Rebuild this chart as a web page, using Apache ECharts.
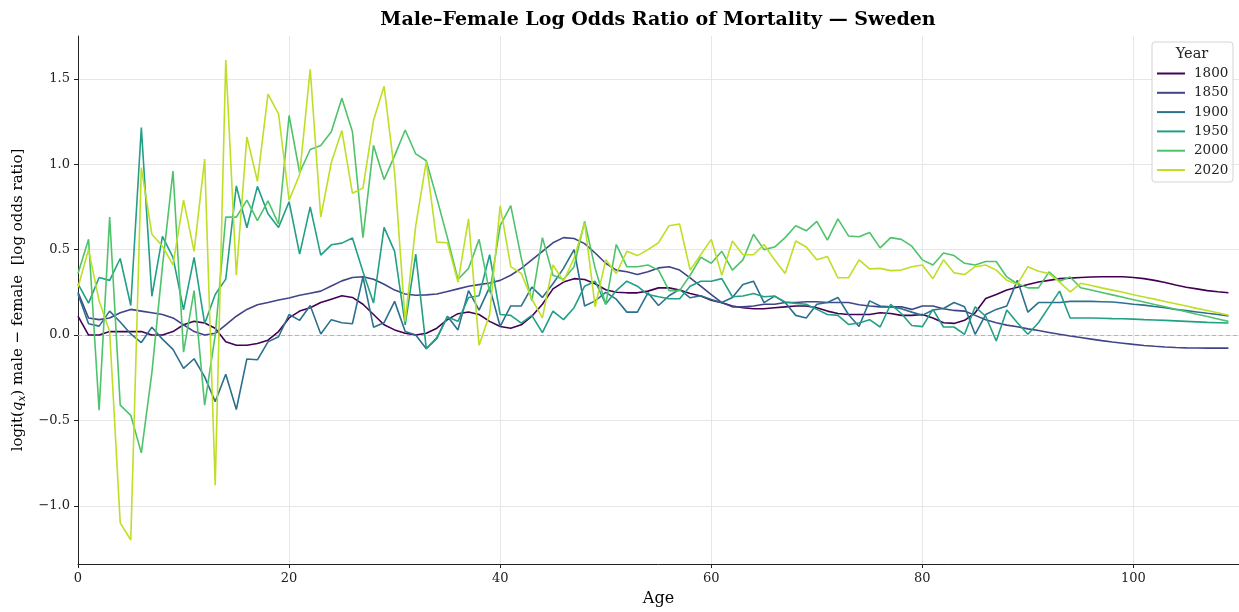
<!DOCTYPE html>
<html>
<head>
<meta charset="utf-8">
<script src="https://cdn.jsdelivr.net/npm/echarts@6/dist/echarts.min.js"></script>
<style>
html,body{margin:0;padding:0;background:#fff;}
#chart{width:1239px;height:612px;}
</style>
</head>
<body>
<div id="chart"></div>
<script>
// Ages 0..109
const ages = Array.from({length: 110}, (_, i) => i);
const xTicks = [0, 20, 40, 60, 80, 100];
const yTicks = [-1.0, -0.5, 0.0, 0.5, 1.0, 1.5];
const years = ['1800', '1850', '1900', '1950', '2000', '2020'];

const y1800 = [0.11,0.00,0.00,0.02,0.02,0.02,0.02,0.00,0.00,0.02,0.06,0.08,0.07,0.04,-0.04,-0.06,-0.06,
  -0.05,-0.03,0.02,0.10,0.14,0.16,0.19,0.21,0.23,0.22,0.18,0.12,0.06,0.03,0.01,0.00,
  0.01,0.04,0.09,0.125,0.135,0.12,0.08,0.05,0.04,0.06,0.11,0.18,0.27,0.31,0.33,0.325,0.30,0.265,0.25,
  0.247,0.247,0.257,0.276,0.276,0.263,0.243,0.228,0.204,0.189,0.17,0.16,0.154,0.154,0.16,0.165,0.17,0.17,0.16,0.14,
  0.126,0.12,0.12,0.12,0.13,0.126,0.115,0.115,0.12,0.10,0.072,0.068,0.086,0.13,0.214,0.237,0.263,0.28,0.296,0.31,0.32,0.33,
  0.333,0.337,0.34,0.341,0.341,0.341,0.337,0.33,0.32,0.307,0.293,0.28,0.27,0.26,0.253,0.247];

const y1850 = [0.25,0.10,0.09,0.10,0.13,0.15,0.14,0.13,0.12,0.10,0.06,0.02,0.00,0.01,0.06,0.11,0.15,
  0.177,0.19,0.205,0.217,0.233,0.245,0.257,0.287,0.317,0.337,0.341,0.327,0.297,0.263,0.24,0.233,
  0.235,0.24,0.255,0.27,0.285,0.295,0.305,0.32,0.35,0.39,0.44,0.49,0.54,0.57,0.565,0.535,0.48,0.42,0.38,
  0.37,0.354,0.37,0.393,0.40,0.38,0.335,0.286,0.237,0.19,0.165,0.165,0.17,0.18,0.18,0.19,0.19,0.195,0.195,0.19,
  0.19,0.19,0.177,0.17,0.165,0.165,0.165,0.15,0.17,0.17,0.154,0.144,0.14,0.115,0.09,0.072,0.058,0.048,0.036,0.026,0.015,0.004,
  -0.006,-0.015,-0.024,-0.033,-0.041,-0.048,-0.055,-0.061,-0.066,-0.07,-0.073,-0.075,-0.076,-0.077,-0.077,-0.077];

const y1900 = [0.24,0.066,0.052,0.14,0.076,0.006,-0.044,0.046,-0.024,-0.084,-0.195,-0.139,-0.245,-0.39,-0.23,-0.436,-0.14,
  -0.145,-0.04,-0.01,0.12,0.086,0.173,0.006,0.09,0.072,0.066,0.34,0.046,0.072,0.197,0.02,0.0,
  -0.08,-0.02,0.11,0.03,0.26,0.146,0.28,0.05,0.17,0.17,0.28,0.22,0.30,0.39,0.50,0.17,0.20,0.25,0.21,
  0.134,0.134,0.247,0.173,0.23,0.267,0.218,0.23,0.208,0.19,0.22,0.296,0.315,0.19,0.228,0.19,0.115,0.10,0.18,0.19,
  0.22,0.12,0.05,0.20,0.17,0.165,0.154,0.134,0.115,0.146,0.155,0.19,0.165,0.004,0.12,0.15,0.17,0.32,0.134,0.19,0.19,0.19,
  0.197,0.197,0.197,0.195,0.193,0.187,0.18,0.175,0.167,0.16,0.15,0.143,0.135,0.127,0.12,0.112];

const y1950 = [0.30,0.187,0.337,0.32,0.448,0.173,1.215,0.227,0.578,0.454,0.147,0.454,0.066,0.237,0.327,0.873,0.628,
  0.87,0.71,0.63,0.78,0.474,0.75,0.468,0.528,0.538,0.568,0.37,0.187,0.63,0.49,0.06,0.474,
  -0.08,-0.015,0.105,0.08,0.22,0.23,0.47,0.12,0.115,0.07,0.115,0.014,0.14,0.09,0.16,0.286,0.315,0.18,0.26,
  0.315,0.286,0.237,0.224,0.212,0.212,0.286,0.315,0.315,0.33,0.224,0.228,0.243,0.224,0.228,0.193,0.185,0.18,0.15,0.12,
  0.115,0.062,0.07,0.09,0.047,0.18,0.126,0.056,0.049,0.15,0.047,0.047,0.004,0.165,0.11,-0.035,0.146,0.072,0.004,0.072,0.165,0.257,
  0.10,0.10,0.10,0.098,0.096,0.095,0.093,0.09,0.088,0.086,0.083,0.08,0.077,0.074,0.072,0.07];

const y2000 = [0.36,0.56,-0.44,0.69,-0.41,-0.47,-0.69,-0.22,0.40,0.96,-0.10,0.26,-0.41,0.00,0.69,0.69,0.79,
  0.67,0.785,0.65,1.285,0.95,1.086,1.11,1.19,1.386,1.19,0.57,1.11,0.91,1.05,1.20,1.06,
  1.02,0.80,0.57,0.325,0.39,0.56,0.25,0.64,0.757,0.45,0.20,0.57,0.35,0.325,0.40,0.665,0.39,0.18,0.53,
  0.40,0.40,0.41,0.38,0.26,0.26,0.35,0.455,0.42,0.49,0.38,0.44,0.59,0.50,0.515,0.57,0.64,0.61,0.665,0.555,
  0.68,0.58,0.575,0.60,0.51,0.57,0.56,0.52,0.44,0.41,0.48,0.465,0.42,0.41,0.43,0.43,0.34,0.30,0.276,0.276,0.37,0.315,
  0.34,0.277,0.263,0.249,0.235,0.221,0.207,0.193,0.179,0.165,0.151,0.137,0.122,0.108,0.094,0.08];

const y2020 = [0.28,0.50,0.20,0.02,-1.10,-1.20,0.98,0.59,0.52,0.41,0.79,0.49,1.03,-0.88,1.61,0.35,1.16,
  0.90,1.41,1.295,0.79,0.94,1.556,0.69,1.01,1.197,0.83,0.86,1.257,1.456,0.95,0.08,0.64,
  1.016,0.544,0.54,0.31,0.68,-0.06,0.12,0.757,0.40,0.36,0.21,0.10,0.41,0.315,0.45,0.656,0.165,0.44,0.36,
  0.49,0.465,0.50,0.54,0.64,0.65,0.38,0.47,0.56,0.35,0.55,0.47,0.47,0.53,0.44,0.36,0.55,0.515,0.44,0.46,
  0.335,0.335,0.44,0.387,0.39,0.377,0.38,0.40,0.41,0.33,0.44,0.364,0.354,0.40,0.41,0.38,0.32,0.296,0.40,0.373,0.36,0.31,
  0.253,0.303,0.29,0.276,0.263,0.25,0.236,0.223,0.21,0.196,0.183,0.17,0.156,0.143,0.13,0.116];

const seriesValues = [y1800, y1850, y1900, y1950, y2000, y2020];
const colors = ['#440154', '#414487', '#2c708e', '#21a085', '#4ec36b', '#bddf26'];

// y-range: data range with 5% margins
let dMin = Infinity, dMax = -Infinity;
seriesValues.forEach(a => a.forEach(v => { if (v < dMin) dMin = v; if (v > dMax) dMax = v; }));
const pad = 0.05 * (dMax - dMin);
const yMin = dMin - pad, yMax = dMax + pad;

const FONT = 'DejaVu Serif';
const fmtY = v => (v < 0 ? '\u2212' : '') + Math.abs(v).toFixed(1);

const chart = echarts.init(document.getElementById('chart'), null, {renderer: 'canvas'});
const series = years.map((y, k) => {
  const s = {
    name: y,
    type: 'line',
    data: ages.map((a, i) => [a, seriesValues[k][i]]),
    showSymbol: false,
    symbol: 'none',
    lineStyle: {width: 1.6, color: colors[k]},
    itemStyle: {color: colors[k]},
    z: 3 + k,
    silent: true
  };
  if (k === 0) {
    s.markLine = {
      silent: true,
      symbol: ['none', 'none'],
      label: {show: false},
      lineStyle: {type: [4, 3], color: '#b4b4b4', width: 1},
      data: [{yAxis: 0}],
      z: 2
    };
  }
  return s;
});

chart.setOption({
  animation: false,
  backgroundColor: '#ffffff',
  grid: {left: 78, right: 0, top: 36, bottom: 45, containLabel: false},
  xAxis: {
    type: 'value', min: 0, max: 110,
    name: 'Age', nameLocation: 'middle', nameGap: 27,
    nameTextStyle: {fontFamily: FONT, fontSize: 16, color: '#000'},
    axisLine: {show: true, onZero: false, lineStyle: {color: '#222', width: 1}},
    axisTick: {show: true, length: 4, customValues: xTicks, lineStyle: {color: '#222'}},
    axisLabel: {customValues: xTicks, fontFamily: FONT, fontSize: 13, color: '#222', margin: 8.5},
    splitLine: {show: true, lineStyle: {color: '#e6e6e6', width: 1}}
  },
  yAxis: {
    type: 'value', min: yMin, max: yMax,
    name: '{n|logit(}{i|q}{s|x}{n|) male \u2212 female  [log odds ratio]}',
    nameLocation: 'middle', nameGap: 48, nameRotate: 90,
    nameTextStyle: {
      fontFamily: FONT, fontSize: 15, color: '#000',
      rich: {
        n: {fontFamily: FONT, fontSize: 15, color: '#000'},
        i: {fontFamily: FONT, fontSize: 15, fontStyle: 'italic', color: '#000'},
        s: {fontFamily: FONT, fontSize: 10.5, fontStyle: 'italic', color: '#000', padding: [7, 0, 0, 0]}
      }
    },
    axisLine: {show: true, onZero: false, lineStyle: {color: '#222', width: 1}},
    axisTick: {show: true, length: 4, customValues: yTicks, lineStyle: {color: '#222'}},
    axisLabel: {customValues: yTicks, formatter: fmtY, fontFamily: FONT, fontSize: 13, color: '#222', margin: 8},
    splitLine: {show: true, lineStyle: {color: '#e6e6e6', width: 1}}
  },
  legend: {
    data: years,
    orient: 'vertical',
    left: 1157, top: 66,
    padding: 0,
    icon: 'rect',
    itemWidth: 28, itemHeight: 2,
    itemGap: 4.3,
    z: 10,
    textStyle: {fontFamily: FONT, fontSize: 13.5, color: '#222', lineHeight: 15, padding: [0, 0, 0, 4]},
    selectedMode: false
  },
  graphic: [
    {type: 'text', x: 658, y: 20, z: 10,
     style: {text: 'Male\u2013Female Log Odds Ratio of Mortality \u2014 Sweden', textAlign: 'center', textVerticalAlign: 'middle',
             font: 'bold 19px "DejaVu Serif"', fill: '#000'}},
    {type: 'rect', x: 1152, y: 42, z: 8,
     shape: {width: 81, height: 140, r: 3},
     style: {fill: 'rgba(255,255,255,0.85)', stroke: '#d4d4d4', lineWidth: 1}},
    {type: 'text', x: 1192, y: 54, z: 9,
     style: {text: 'Year', textAlign: 'center', textVerticalAlign: 'middle', font: '14.5px "DejaVu Serif"', fill: '#222'}}
  ],
  series: series
});
</script>
</body>
</html>
